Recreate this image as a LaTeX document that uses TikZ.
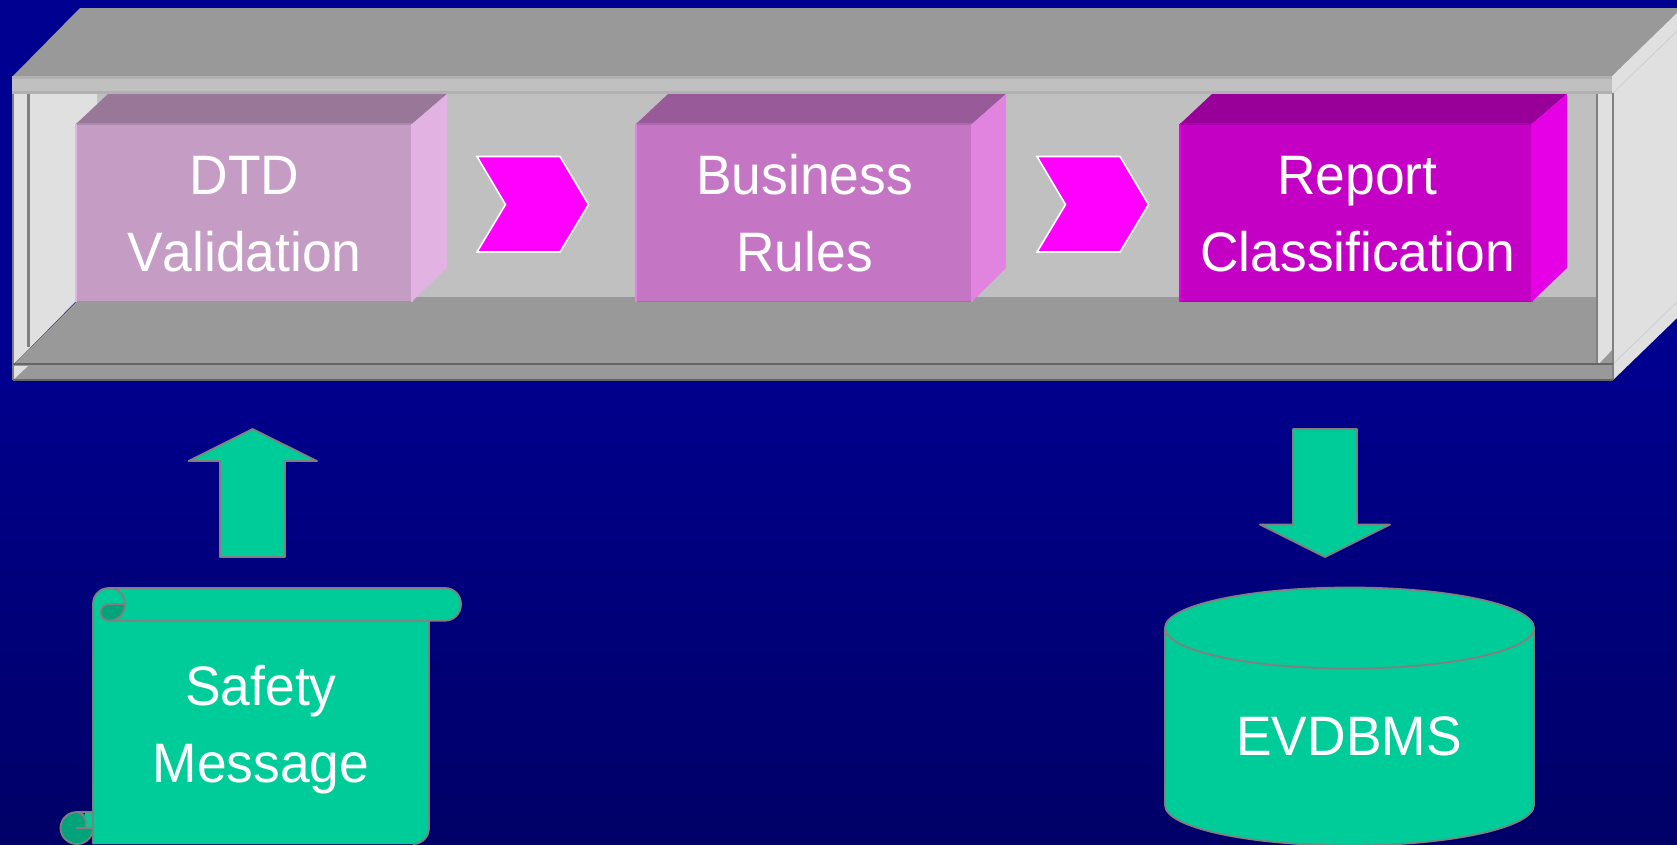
\documentclass[tikz,border=0pt]{standalone}
\usepackage{fontspec}
\setmainfont[Kerning=Off,FakeStretch=0.96]{Liberation Sans}
\definecolor{navytop}{HTML}{000090}
\definecolor{navybot}{HTML}{000045}
\definecolor{wallgrey}{HTML}{C0C0C0}
\definecolor{sidegrey}{HTML}{E0E0E0}
\definecolor{floorgrey}{HTML}{999999}
\definecolor{lineg}{HTML}{808080}
\definecolor{lined}{HTML}{666666}
\definecolor{teal}{HTML}{00CC99}
\definecolor{tealdark}{HTML}{00A37A}
\definecolor{chev}{HTML}{FF00FF}
\definecolor{aF}{HTML}{C49CC4}
\definecolor{aT}{HTML}{997799}
\definecolor{aS}{HTML}{E2B3E2}
\definecolor{bF}{HTML}{C476C4}
\definecolor{bT}{HTML}{995A99}
\definecolor{bS}{HTML}{E084E0}
\definecolor{cF}{HTML}{C400C4}
\definecolor{cT}{HTML}{990099}
\definecolor{cS}{HTML}{E600E6}
\pgfdeclareverticalshading{bgshade}{100bp}{color(0bp)=(navybot); color(55bp)=(navytop); color(100bp)=(navytop)}
\tikzset{
  label/.style={text=white,font=\fontsize{55.6}{77}\selectfont,align=center,inner sep=0pt,anchor=base},
  chevron/.style={fill=chev,draw=white,line width=1.6pt,line join=miter},
  solid shape/.style={fill=teal,draw=lineg,line width=1.8pt,line join=round},
  thick rule/.style={draw=lineg,line width=2.5pt},
  dark rule/.style={draw=lined,line width=2.5pt}
}
% #1 left #2 right #3 depth-right #4 front #5 top #6 side
\newcommand{\slab}[6]{%
  \fill[#5] (#1,124) -- (#1+32,94) -- (#3,94) -- (#2,124) -- cycle;
  \fill[#6] (#2,124) -- (#3,94) -- (#3,268) -- (#2,301.5) -- cycle;
  \fill[#4] (#1,124) rectangle (#2,301.5);
  \draw[#5!50!#4,line width=1.5pt] (#1,124) -- (#2,124) (#1,301.5) -- (#2,301.5);
  \draw[#6,line width=1.5pt] (#1,123.5) -- (#1,302) (#2,123.5) -- (#2,302);
}
\begin{document}
\begin{tikzpicture}[x=1pt,y=-1pt]
\useasboundingbox (0,0) rectangle (1677,844);
\clip (0,0) rectangle (1677,844);
\fill[shading=bgshade] (0,0) rectangle (1677,844);

% enclosure
\fill[floorgrey] (13,76) -- (80,8) -- (1677,8) -- (1677,14) -- (1612,76) -- cycle;
\fill[sidegrey] (1612,76) -- (1677,13) -- (1677,318) -- (1613,380) -- cycle;
\draw[draw=black!8!sidegrey,line width=.8pt] (1613,93) -- (1677,31);
\draw[draw=black!8!sidegrey,line width=.8pt] (1613,364) -- (1677,302);
\fill[wallgrey] (90,93) rectangle (1597,300);
\fill[sidegrey] (13,93) -- (97,93) -- (97,297) -- (80,297) -- (13,365) -- cycle;
\fill[floorgrey] (13,365) -- (81,297) -- (1597,297) -- (1597,365) -- cycle;
\fill[sidegrey] (1597,93) rectangle (1613,364);
\fill[floorgrey] (1599,364) -- (1613,349) -- (1613,364) -- cycle;
\fill[floorgrey] (13,365) rectangle (1613,380);
\fill[sidegrey] (13,366) -- (28,366) -- (13,380) -- cycle;
\draw[thick rule] (28.5,93) -- (28.5,347);
\draw[thick rule] (13,93) -- (13,380);
\draw[thick rule] (1597,93) -- (1597,364);
\draw[thick rule] (1613,93) -- (1613,380);
\draw[dark rule] (13,364) -- (1613,364);
\draw[dark rule] (13,380) -- (1613,380);
\fill[wallgrey] (12,76) rectangle (1612,93);
\fill[black!8!wallgrey] (12,76) rectangle (1612,78.5);
\fill[black!8!wallgrey] (12,91) rectangle (1612,93.5);

% slabs
\slab{76}{412}{447}{aF}{aT}{aS}
\slab{636}{972}{1006}{bF}{bT}{bS}
\slab{1180}{1532}{1567}{cF}{cT}{cS}
\node[label] (dtd) at (244.5,271) {DTD\\Validation};
\node[label] (rules) at (804.5,271) {Business\\Rules};
\node[label] (report) at (1357.5,271) {Report\\Classification};

% chevrons
\path[chevron] (477,156.5) -- (560,156.5) -- (588.5,204.5) -- (560,252) -- (477,252) -- (505.5,204.5) -- cycle;
\path[chevron] (1037,156.5) -- (1120,156.5) -- (1148.5,204.5) -- (1120,252) -- (1037,252) -- (1065.5,204.5) -- cycle;

% block arrows
\path[solid shape] (252.5,429) -- (317,461) -- (285,461) -- (285,557) -- (220,557) -- (220,461) -- (188.5,461) -- cycle;
\path[solid shape] (1293,429) -- (1357,429) -- (1357,524.5) -- (1390,524.5) -- (1325,557) -- (1260,524.5) -- (1293,524.5) -- cycle;

% scroll
\fill[tealdark] (77,828) circle (16);
\fill[teal] (93,604) .. controls (93,595) and (100,588) .. (109,588) -- (445,588)
  .. controls (454,588) and (461,595) .. (461,604.3) .. controls (461,613.5) and (454,620.7) .. (445,620.7)
  -- (429,620.7) -- (429,828) .. controls (429,837) and (422,844) .. (413,844) -- (93,844) -- (93,604) -- cycle;
\fill[teal] (85,812) rectangle (93,828);
\fill[tealdark] (109,604) -- (125,604) .. controls (125,613.5) and (118,620.7) .. (109,620.7)
  .. controls (104,620.7) and (100.5,617) .. (100.5,612.5) .. controls (100.5,608) and (104,604) .. (109,604) -- cycle;
\draw[draw=lineg,line width=1.8pt]
  (93,844) -- (93,604) .. controls (93,595) and (100,588) .. (109,588) -- (445,588)
  .. controls (454,588) and (461,595) .. (461,604.3) .. controls (461,613.5) and (454,620.7) .. (445,620.7)
  -- (109,620.7) .. controls (104,620.7) and (100.5,617) .. (100.5,612.5) .. controls (100.5,608) and (104,604) .. (109,604) -- (125,604);
\draw[draw=lineg,line width=1.8pt] (109,588) .. controls (118,588) and (125,595) .. (125,604) .. controls (125,613.5) and (118,620.7) .. (109,620.7);
\draw[draw=lineg,line width=1.8pt] (429,620.7) -- (429,828) .. controls (429,837) and (422,844) .. (413,844);
\draw[draw=lineg,line width=1.8pt] (93,812) -- (77,812) .. controls (68,812) and (60.5,819) .. (60.5,828) .. controls (60.5,837) and (68,844) .. (77,844)
  .. controls (86,844) and (93,837) .. (93,828) -- (76,828) (85,828) .. controls (87,825) and (87,815) .. (77,812);
\node[label] (safety) at (261,782) {Safety\\Message};

% cylinder
\path[solid shape] (1165,628) -- (1165,805) arc[start angle=180,end angle=0,x radius=184.5,y radius=40.5] -- (1534,628) -- cycle;
\path[solid shape] (1349.5,628) ellipse[x radius=184.5,y radius=40.5];
\node[label] (evdbms) at (1349,755) {EVDBMS};
\end{tikzpicture}
\end{document}
